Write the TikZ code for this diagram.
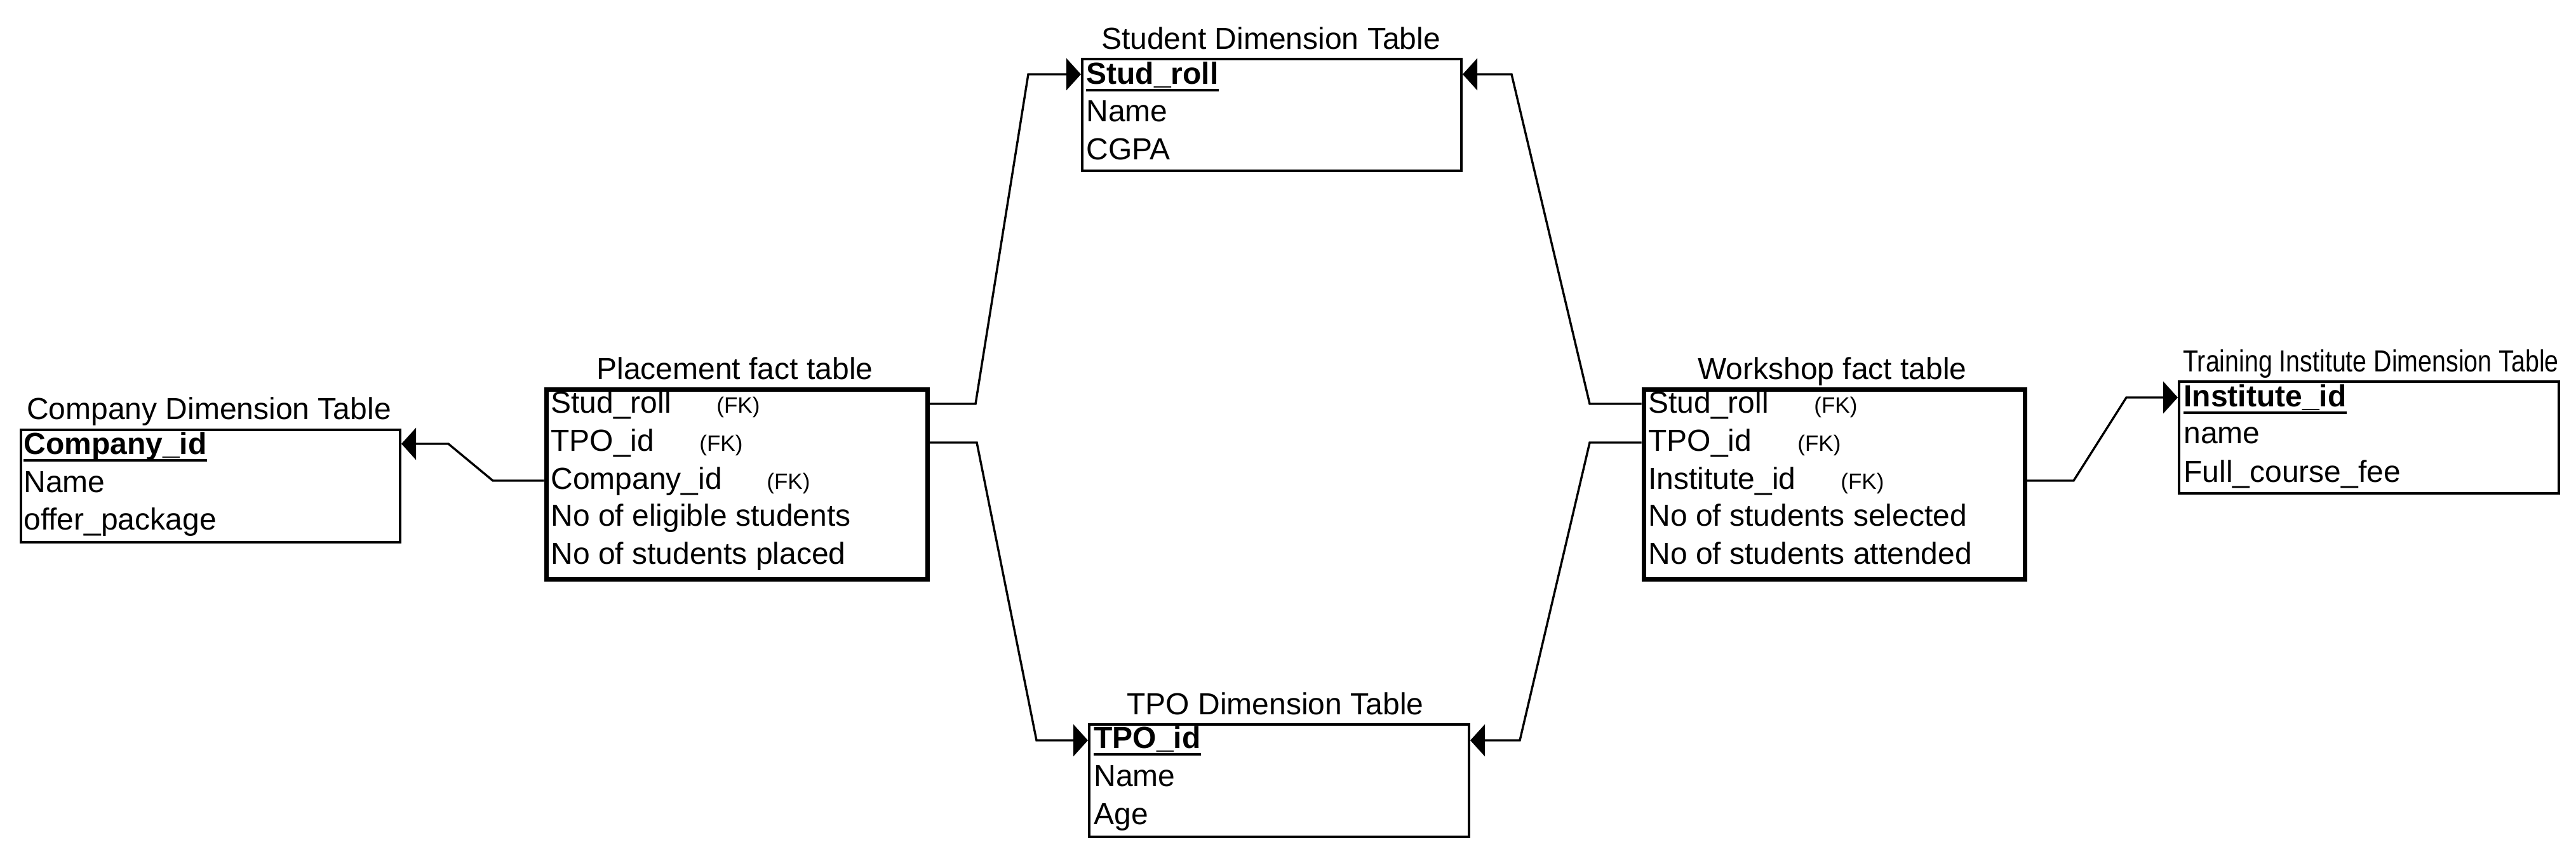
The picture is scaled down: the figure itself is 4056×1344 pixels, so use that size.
\documentclass[tikz,border=0pt]{standalone}
\usepackage{fontspec}
\setmainfont{Liberation Sans}
\newfontfamily\narrowfont[FakeStretch=0.82]{Liberation Sans}
\usetikzlibrary{arrows.meta}
\tikzset{
  dimbox/.style={draw, line width=2pt, inner sep=0pt, anchor=north west},
  factbox/.style={draw, line width=3.5pt, inner sep=0pt, anchor=north west},
  rowtxt/.style={anchor=base west, inner sep=0pt, font=\fontsize{24}{28}\selectfont},
  keytxt/.style={anchor=base west, inner sep=0pt, font=\bfseries\fontsize{24}{28}\selectfont},
  fktxt/.style={anchor=base west, inner sep=0pt, font=\fontsize{17.5}{20}\selectfont},
  ttl/.style={anchor=base, inner sep=0pt, font=\fontsize{24}{28}\selectfont},
  smallttl/.style={anchor=base, inner sep=0pt, font=\narrowfont\fontsize{24}{28}\selectfont},
  conn/.style={line width=1.7pt, -{Triangle[length=11.5pt,width=25pt]}},
  uline/.style={line width=2pt},
}
\begin{document}
\begin{tikzpicture}[x=0.5pt,y=-0.5pt]
\useasboundingbox (0,0) rectangle (4056,1344);

% ---------- Company dimension table ----------
\node[ttl] (tcomp) at (329,660) {Company Dimension Table};
\node[dimbox, minimum width=298.5pt, minimum height=88.5pt] (comp) at (31,675) {};
\node[keytxt] (c1) at (37,715) {Company\_id};
\node[rowtxt] (c2) at (37,775) {Name};
\node[rowtxt] (c3) at (37,834) {offer\_package};
\draw[uline] ([yshift=-5pt]c1.base west) -- ([yshift=-5pt]c1.base east);

% ---------- Placement fact table ----------
\node[ttl] (tplc) at (1157,597) {Placement fact table};
\node[factbox, minimum width=300pt, minimum height=149.5pt] (plc) at (856.5,609.5) {};
\node[rowtxt] (p1) at (867,650) {Stud\_roll};
\node[rowtxt] (p2) at (867,710) {TPO\_id};
\node[rowtxt] (p3) at (867,770) {Company\_id};
\node[rowtxt] (p4) at (867,828) {No of eligible students};
\node[rowtxt] (p5) at (867,888) {No of students placed};
\node[fktxt] (pf1) at (1128,650) {(FK)};
\node[fktxt] (pf2) at (1101,710) {(FK)};
\node[fktxt] (pf3) at (1207,770) {(FK)};

% ---------- Student dimension table ----------
\node[ttl] (tstu) at (2001,77) {Student Dimension Table};
\node[dimbox, minimum width=298.5pt, minimum height=88pt] (stu) at (1702,91) {};
\node[keytxt] (s1) at (1710,132) {Stud\_roll};
\node[rowtxt] (s2) at (1710,191) {Name};
\node[rowtxt] (s3) at (1710,251) {CGPA};
\draw[uline] ([yshift=-5pt]s1.base west) -- ([yshift=-5pt]s1.base east);

% ---------- TPO dimension table ----------
\node[ttl] (ttpo) at (2008,1125) {TPO Dimension Table};
\node[dimbox, minimum width=299pt, minimum height=88.5pt] (tpo) at (1713,1139) {};
\node[keytxt] (o1) at (1722,1178) {TPO\_id};
\node[rowtxt] (o2) at (1722,1238) {Name};
\node[rowtxt] (o3) at (1722,1298) {Age};
\draw[uline] ([yshift=-5pt]o1.base west) -- ([yshift=-5pt]o1.base east);

% ---------- Workshop fact table ----------
\node[ttl] (twsh) at (2885,597) {Workshop fact table};
\node[factbox, minimum width=300pt, minimum height=149.5pt] (wsh) at (2584.5,609.5) {};
\node[rowtxt] (w1) at (2595,650) {Stud\_roll};
\node[rowtxt] (w2) at (2595,710) {TPO\_id};
\node[rowtxt] (w3) at (2595,770) {Institute\_id};
\node[rowtxt] (w4) at (2595,828) {No of students selected};
\node[rowtxt] (w5) at (2595,888) {No of students attended};
\node[fktxt] (wf1) at (2856,650) {(FK)};
\node[fktxt] (wf2) at (2830,710) {(FK)};
\node[fktxt] (wf3) at (2898,770) {(FK)};

% ---------- Training institute dimension table ----------
\node[smallttl] (ttrn) at (3733,585) {Training Institute Dimension Table};
\node[dimbox, minimum width=299pt, minimum height=88pt] (trn) at (3429,599) {};
\node[keytxt] (i1) at (3438,640) {Institute\_id};
\node[rowtxt] (i2) at (3438,698) {name};
\node[rowtxt] (i3) at (3438,759) {Full\_course\_fee};
\draw[uline] ([yshift=-5pt]i1.base west) -- ([yshift=-5pt]i1.base east);

% ---------- connectors ----------
\coordinate (b1) at (776,757);  \coordinate (b2) at (706,699);
\draw[conn] (plc.west |- b1) -- (b1) -- (b2) -- (comp.east |- b2);

\coordinate (b3) at (1536,636); \coordinate (b4) at (1619,117);
\draw[conn] (plc.east |- b3) -- (b3) -- (b4) -- (stu.west |- b4);

\coordinate (b5) at (1538,697); \coordinate (b6) at (1632,1166);
\draw[conn] (plc.east |- b5) -- (b5) -- (b6) -- (tpo.west |- b6);

\coordinate (b7) at (2503,636); \coordinate (b8) at (2380,117);
\draw[conn] (wsh.west |- b7) -- (b7) -- (b8) -- (stu.east |- b8);

\coordinate (b9) at (2503,697); \coordinate (b10) at (2393,1166);
\draw[conn] (wsh.west |- b9) -- (b9) -- (b10) -- (tpo.east |- b10);

\coordinate (b11) at (3265,757); \coordinate (b12) at (3348,626);
\draw[conn] (wsh.east |- b11) -- (b11) -- (b12) -- (trn.west |- b12);
\end{tikzpicture}
\end{document}
